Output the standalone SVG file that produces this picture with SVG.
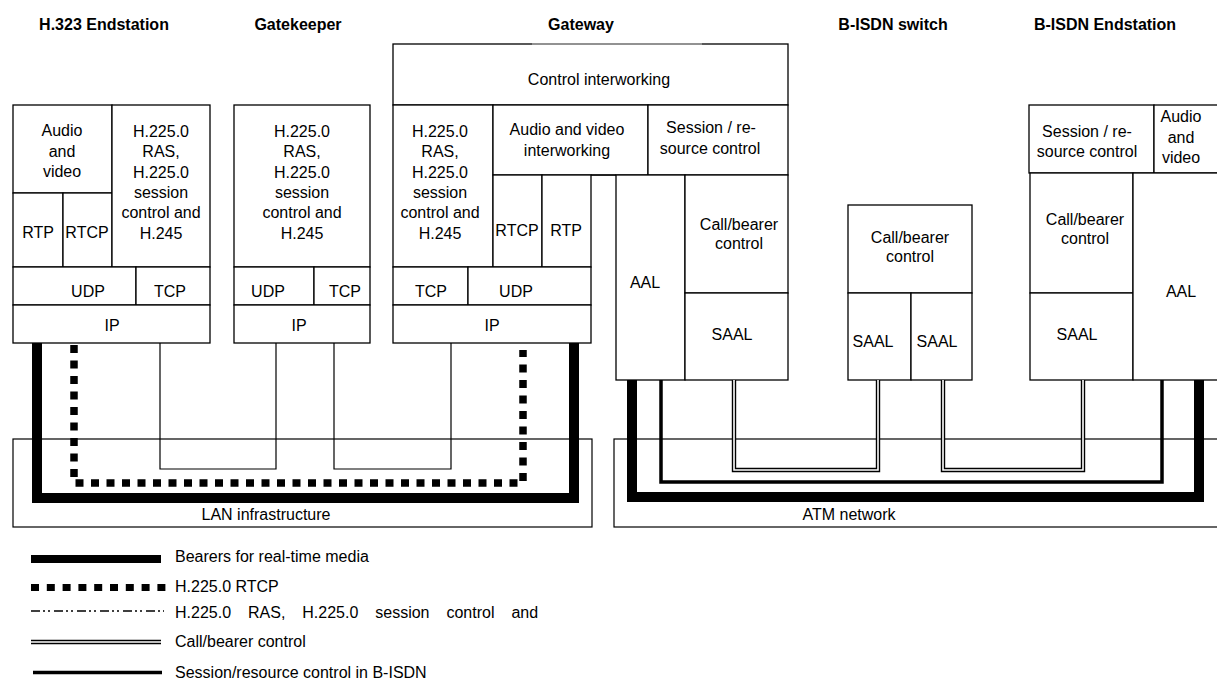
<svg xmlns="http://www.w3.org/2000/svg" width="1217" height="681" viewBox="0 0 1217 681">
<style>
.bx{fill:#fff;stroke:#000;stroke-width:1.3}
.nb{fill:none;stroke:#000;stroke-width:1.2}
text{font-family:"Liberation Sans",Arial,Helvetica,sans-serif;font-size:16px;fill:#000;text-anchor:middle}
.hd{font-weight:bold}
.lg{text-anchor:start}
.bear{fill:none;stroke:#000;stroke-width:10}
.rtcp{fill:none;stroke:#000;stroke-width:7.5;stroke-dasharray:8 7.5}
.thin{fill:none;stroke:#000;stroke-width:1.2}
.sess{fill:none;stroke:#000;stroke-width:3.5}
.dblo{fill:none;stroke:#000;stroke-width:4.4}
.dbli{fill:none;stroke:#fff;stroke-width:1.6}
</style>
<defs>
<path id="cb1" d="M734,380 V470 H878 V380"/>
<path id="cb2" d="M943,380 V470 H1083 V380"/>
</defs>
<rect width="1217" height="681" fill="#fff"/>

<g id="headers">
<text class="hd" x="104" y="30">H.323 Endstation</text>
<text class="hd" x="298" y="30">Gatekeeper</text>
<text class="hd" x="581" y="30">Gateway</text>
<text class="hd" x="893" y="30">B-ISDN switch</text>
<text class="hd" x="1105" y="30">B-ISDN Endstation</text>
</g>

<g id="h323-endstation">
<rect class="bx" x="13" y="105" width="99" height="88"/>
<text x="62" y="136">Audio<tspan x="62" y="156.5">and</tspan><tspan x="62" y="177">video</tspan></text>
<rect class="bx" x="13" y="193" width="50" height="74"/>
<text x="38" y="238">RTP</text>
<rect class="bx" x="63" y="193" width="49" height="74"/>
<text x="87" y="238">RTCP</text>
<rect class="bx" x="112" y="105" width="98" height="162"/>
<text x="161" y="137">H.225.0<tspan x="161" y="157.3">RAS,</tspan><tspan x="161" y="177.6">H.225.0</tspan><tspan x="161" y="197.9">session</tspan><tspan x="161" y="218.2">control and</tspan><tspan x="161" y="238.5">H.245</tspan></text>
<rect class="bx" x="13" y="267" width="123" height="38"/>
<text x="88" y="297">UDP</text>
<rect class="bx" x="136" y="267" width="74" height="38"/>
<text x="170" y="297">TCP</text>
<rect class="bx" x="13" y="305" width="197" height="38"/>
<text x="112" y="331">IP</text>
</g>

<g id="gatekeeper">
<rect class="bx" x="234" y="105" width="136" height="162"/>
<text x="302" y="137">H.225.0<tspan x="302" y="157.3">RAS,</tspan><tspan x="302" y="177.6">H.225.0</tspan><tspan x="302" y="197.9">session</tspan><tspan x="302" y="218.2">control and</tspan><tspan x="302" y="238.5">H.245</tspan></text>
<rect class="bx" x="234" y="267" width="80" height="38"/>
<text x="268" y="297">UDP</text>
<rect class="bx" x="314" y="267" width="56" height="38"/>
<text x="345" y="297">TCP</text>
<rect class="bx" x="234" y="305" width="136" height="38"/>
<text x="299" y="331">IP</text>
</g>

<g id="gateway">
<rect class="bx" x="393" y="44" width="395" height="61"/>
<line x1="532" y1="44" x2="702" y2="44" stroke="#a6a6a6" stroke-width="1.4"/>
<text x="599" y="85">Control interworking</text>
<rect class="bx" x="393" y="105" width="100" height="162"/>
<text x="440" y="137">H.225.0<tspan x="440" y="157.3">RAS,</tspan><tspan x="440" y="177.6">H.225.0</tspan><tspan x="440" y="197.9">session</tspan><tspan x="440" y="218.2">control and</tspan><tspan x="440" y="238.5">H.245</tspan></text>
<rect class="bx" x="493" y="105" width="155" height="70"/>
<text x="567" y="135">Audio and video<tspan x="567" y="156">interworking</tspan></text>
<rect class="bx" x="648" y="105" width="140" height="70"/>
<text x="711" y="133">Session / re-<tspan x="710" y="154">source control</tspan></text>
<rect class="bx" x="493" y="175" width="49" height="92"/>
<text x="517" y="236">RTCP</text>
<rect class="bx" x="542" y="175" width="49" height="92"/>
<text x="566" y="236">RTP</text>
<line class="nb" x1="591" y1="175" x2="616" y2="175"/>
<rect class="bx" x="393" y="267" width="75" height="38"/>
<text x="431" y="297">TCP</text>
<rect class="bx" x="468" y="267" width="123" height="38"/>
<text x="516" y="297">UDP</text>
<rect class="bx" x="393" y="305" width="198" height="38"/>
<text x="492" y="331">IP</text>
<rect class="bx" x="616" y="175" width="69" height="205"/>
<text x="645" y="288">AAL</text>
<rect class="bx" x="685" y="175" width="103" height="118"/>
<text x="739" y="230">Call/bearer<tspan x="739" y="249">control</tspan></text>
<rect class="bx" x="685" y="293" width="103" height="87"/>
<text x="732" y="340">SAAL</text>
</g>

<g id="bisdn-switch">
<rect class="bx" x="848" y="205" width="124" height="88"/>
<text x="910" y="243">Call/bearer<tspan x="910" y="262">control</tspan></text>
<rect class="bx" x="848" y="293" width="63" height="87"/>
<text x="873" y="347">SAAL</text>
<rect class="bx" x="911" y="293" width="61" height="87"/>
<text x="937" y="347">SAAL</text>
</g>

<g id="bisdn-endstation">
<rect class="bx" x="1029" y="105" width="125" height="68"/>
<text x="1087" y="137">Session / re-<tspan x="1087" y="157">source control</tspan></text>
<rect class="bx" x="1154" y="105" width="70" height="68"/>
<text x="1181" y="122">Audio<tspan x="1181" y="142.5">and</tspan><tspan x="1181" y="163">video</tspan></text>
<rect class="bx" x="1030" y="173" width="103" height="120"/>
<text x="1085" y="225">Call/bearer<tspan x="1085" y="244">control</tspan></text>
<rect class="bx" x="1030" y="293" width="103" height="87"/>
<text x="1077" y="340">SAAL</text>
<rect class="bx" x="1133" y="173" width="90" height="207"/>
<text x="1181" y="297">AAL</text>
</g>

<g id="lan-infrastructure">
<rect class="nb" x="13" y="439" width="579" height="88"/>
<text x="266" y="520">LAN infrastructure</text>
</g>

<g id="atm-network">
<rect class="nb" x="614" y="439" width="610" height="88"/>
<text x="849" y="520">ATM network</text>
</g>

<g id="connectors">
<path class="bear" d="M37,343 V498 H574 V343"/>
<path class="rtcp" d="M74,345 V483 H523 V350"/>
<path class="thin" d="M160,343 V469 H276 V343"/>
<path class="thin" d="M334,343 V469 H451 V343"/>
<path class="bear" d="M632,380 V497 H1199 V380"/>
<path class="sess" d="M661,380 V482 H1162 V380"/>
<use href="#cb1" class="dblo"/>
<use href="#cb1" class="dbli"/>
<use href="#cb2" class="dblo"/>
<use href="#cb2" class="dbli"/>
</g>

<g id="legend">
<rect x="31" y="555" width="130" height="8" fill="#000"/>
<text class="lg" x="175" y="562">Bearers for real-time media</text>
<line x1="31" y1="587.5" x2="166" y2="587.5" stroke="#000" stroke-width="7" stroke-dasharray="8 7.8"/>
<text class="lg" x="175" y="592">H.225.0 RTCP</text>
<line x1="31" y1="611" x2="164" y2="611" stroke="#000" stroke-width="1.3" stroke-dasharray="9 3 2 3 2 4"/>
<text class="lg" x="175" y="618" word-spacing="12.5">H.225.0 RAS, H.225.0 session control and</text>
<line x1="31" y1="642" x2="161" y2="642" stroke="#000" stroke-width="4.4"/>
<line x1="31" y1="642" x2="161" y2="642" stroke="#fff" stroke-width="1.6"/>
<text class="lg" x="175" y="647">Call/bearer control</text>
<line x1="33" y1="672.5" x2="162" y2="672.5" stroke="#000" stroke-width="3.5"/>
<text class="lg" x="175" y="678">Session/resource control in B-ISDN</text>
</g>
</svg>
